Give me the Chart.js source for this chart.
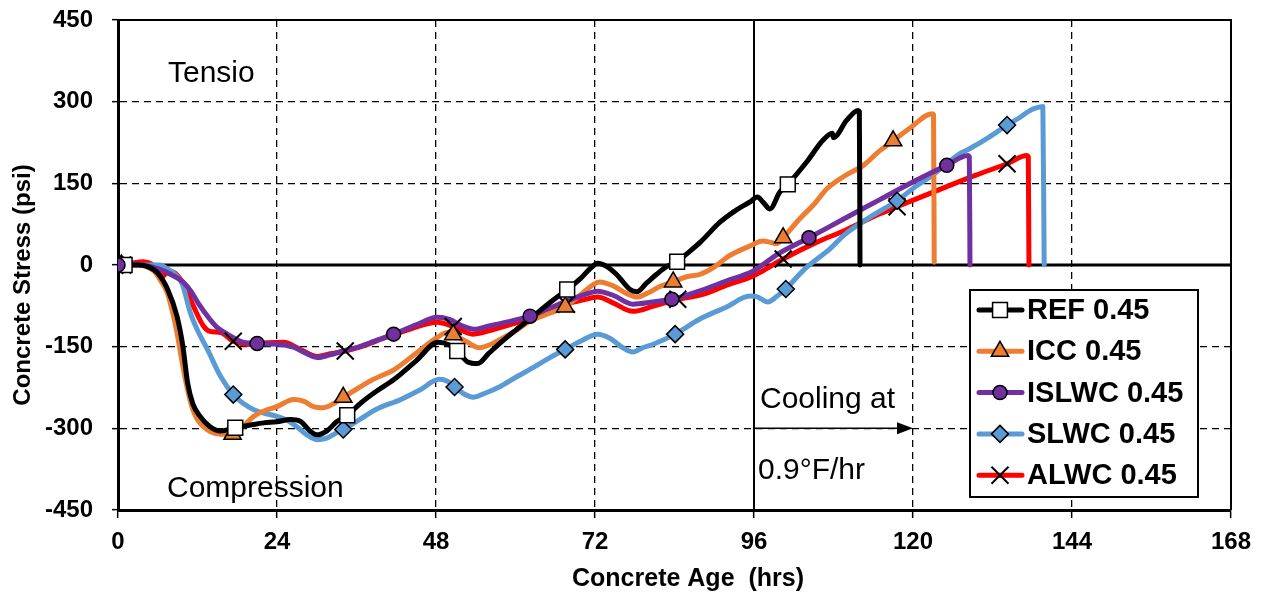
<!DOCTYPE html>
<html>
<head>
<meta charset="utf-8">
<script src="https://cdn.jsdelivr.net/npm/chart.js@4/dist/chart.umd.min.js"></script>
<style>
  html, body { margin: 0; padding: 0; background: #ffffff; overflow: hidden; }
  canvas { display: block; }
</style>
</head>
<body>
<canvas id="stressChart" width="1265" height="597"></canvas>
<script>
// ---- axis ticks ----
const X_TICKS = [0, 24, 48, 72, 96, 120, 144, 168];
const Y_TICKS = [-450, -300, -150, 0, 150, 300, 450];
const COOLING_START = 96;
const COOLING_END = 120;
const COOLING_LEVEL = -300;

// ---- series names ----
const SERIES_NAMES = ['REF 0.45', 'ICC 0.45', 'ISLWC 0.45', 'SLWC 0.45', 'ALWC 0.45'];

// ---- measured stress histories: [age (hrs), stress (psi)] ----
const REF = [[0,0],[1,0],[3,0],[4.5,-3],[6,-15],[7.5,-45],[8.9,-94],[9.8,-150],[10.5,-216],[11.3,-255],[12.4,-278],[13.8,-296],[15.5,-305],[17.7,-299],[20,-294],[22,-290],[24,-288],[26,-284],[27.5,-287],[29,-305],[30,-312],[31.5,-305],[33,-288],[34.6,-276],[36.7,-253],[39,-232],[41.7,-210],[45,-176],[48.3,-142],[50,-147],[51.2,-158],[52.8,-178],[54.3,-181],[56,-162],[57.8,-142],[60,-120],[62.7,-94],[65.3,-68],[67.8,-45],[69.8,-25],[71.4,-5],[72.4,3],[73.8,-3],[75.3,-18],[77.3,-45],[78.3,-49],[79.8,-33],[81.3,-17],[82.8,-3],[84.4,6],[85.8,20],[87.9,42],[90.9,79],[93.2,100],[95.4,116],[96.5,125],[97.4,115],[98.4,103],[99.9,134],[101.1,148],[104,190],[106.4,229],[107.8,242],[108,234],[110,266],[111.7,284],[111.9,282],[112,0]];
const ICC = [[0,0],[0.5,0],[2,0],[4,-2],[5.5,-12],[6.5,-30],[7.4,-50],[8.2,-85],[8.9,-124],[9.7,-180],[10.5,-229],[11.2,-262],[12,-284],[13,-298],[13.9,-306],[15.5,-311],[17.3,-311],[19,-295],[20.5,-278],[22.5,-266],[24,-260],[26.5,-247],[28,-250],[29.5,-260],[31,-262],[32.5,-255],[34,-243],[36.7,-223],[38.2,-212],[41.7,-192],[45,-162],[48.3,-132],[49.7,-124],[50.6,-128],[52.5,-140],[54.6,-152],[56.4,-145],[57.8,-136],[60,-121],[62.2,-103],[64.8,-90],[67.5,-77],[69.8,-55],[72.7,-31],[74.7,-38],[76.7,-52],[78.3,-59],[80.2,-50],[81.7,-40],[83.8,-31],[85.7,-22],[87.9,-17],[90.2,-2],[92,15],[95.4,35],[97.3,44],[98.4,42],[99.4,39],[100.4,50],[102.9,85],[105.1,112],[107,140],[109.6,163],[112.5,183],[115,210],[117,228],[119.6,252],[122.9,278],[123.1,276],[123.2,5]];
const ISLWC = [[0,0],[2,2],[3.8,0],[5.5,-5],[6.8,-10],[7.9,-17],[9.8,-31],[11,-48],[12,-68],[13.9,-100],[15,-115],[16.5,-127],[19,-142],[21,-144],[23,-145],[24.5,-146],[26.5,-151],[28.5,-163],[30.1,-170],[32,-165],[34,-158],[36.7,-149],[38.2,-142],[41.6,-127],[45,-110],[48.2,-96],[50,-100],[52,-112],[53.7,-118],[56,-112],[59,-104],[62.2,-94],[65,-80],[67.8,-66],[70.3,-55],[72.4,-48],[74.8,-56],[77.7,-72],[80.7,-68],[83.6,-63],[85.7,-56],[87.7,-48],[91.7,-30],[95.9,-11],[99.6,20],[104.3,50],[109.6,85],[115,120],[119.6,150],[125.1,183],[128.3,201],[128.5,199],[128.6,0]];
const SLWC = [[0,0],[0.7,0],[3,0],[5,0],[6.4,0],[7.3,-6],[8.6,-17],[9.7,-35],[10.9,-87],[12,-120],[13.5,-155],[15.5,-205],[17.4,-238],[19,-255],[20.5,-266],[22,-272],[24,-278],[25.5,-285],[27,-297],[28.5,-312],[30.1,-321],[31.5,-318],[33,-308],[34,-302],[36.7,-282],[39,-265],[42.7,-247],[45.5,-230],[48.5,-210],[49.8,-214],[50.8,-224],[52.4,-238],[53.6,-243],[55.3,-236],[57.7,-223],[59.8,-208],[62.7,-188],[65.2,-170],[67.5,-155],[69.8,-140],[72.4,-127],[74.3,-135],[76.2,-152],[77.7,-160],[79.2,-152],[80.7,-146],[84.1,-127],[87.7,-100],[91.7,-78],[95.4,-57],[96.4,-58],[98.1,-68],[99.4,-58],[100.8,-44],[103.6,-8],[107.5,30],[109.6,55],[113.5,88],[117.6,118],[120.6,146],[122.6,162],[125.1,186],[127,204],[128.6,214],[131.5,235],[134.2,257],[136,270],[137.7,284],[138.5,288],[139.6,291],[139.8,0]];
const ALWC = [[0,0],[0.7,0],[2,3],[3.8,6],[5,2],[6.8,-20],[7.6,-12],[8.3,-13],[9.7,-31],[11.4,-76],[12.9,-112],[13.9,-122],[15.5,-124],[17.4,-140],[20,-146],[22.5,-143],[25,-142],[27.5,-155],[30.1,-168],[32,-163],[34.3,-158],[36.7,-150],[40,-135],[44,-118],[48.2,-105],[50.6,-113],[53.6,-127],[56.8,-118],[61.8,-100],[64.8,-88],[67.7,-72],[70.3,-64],[72.4,-59],[74.8,-70],[77.7,-85],[80.7,-76],[84.5,-63],[86,-60],[88,-55],[91.7,-38],[95.9,-20],[97.3,-11],[100.4,11],[105.5,42],[109.6,63],[115,94],[117.6,107],[120.6,122],[125.1,144],[129.5,165],[134.2,186],[137.2,201],[137.4,199],[137.5,0]];

// ---- marker positions along each history ----
const REF_MARKS = [[1,0],[17.7,-299],[34.6,-276],[51.2,-158],[67.8,-45],[84.4,6],[101.1,148]];
const ICC_MARKS = [[0.5,0],[17.3,-311],[34,-243],[50.6,-128],[67.5,-77],[83.8,-31],[100.4,50],[117,228]];
const ISLWC_MARKS = [[0,0],[21,-144],[41.6,-127],[62.2,-94],[83.6,-63],[104.3,50],[125.1,183]];
const SLWC_MARKS = [[0.7,0],[17.4,-238],[34,-302],[50.8,-224],[67.5,-155],[84.1,-127],[100.8,-44],[117.6,118],[134.2,257]];
const ALWC_MARKS = [[0.7,0],[17.4,-140],[34.3,-158],[50.6,-113],[67.7,-72],[84.5,-63],[100.4,11],[117.6,107],[134.2,186]];

// ---- annotation texts ----
const LABEL_TENSION = 'Tensio';
const LABEL_COMPRESSION = 'Compression';
const LABEL_COOLING_1 = 'Cooling at';
const LABEL_COOLING_2 = '0.9°F/hr';
const X_TITLE = 'Concrete Age  (hrs)';
const Y_TITLE = 'Concrete Stress (psi)';

// ---- styling ----
const FONT = "'Liberation Sans', Arial, sans-serif";
const STYLES = [
  { color: '#000000', pointStyle: 'rect',     radius: 10.5, fill: '#ffffff', border: 1.5 },
  { color: '#ED7D31', pointStyle: 'triangle', radius: 10,   fill: '#ED7D31', border: 1.5 },
  { color: '#7030A0', pointStyle: 'circle',   radius: 7,    fill: '#7030A0', border: 1.5 },
  { color: '#5B9BD5', pointStyle: 'rectRot',  radius: 8.5,  fill: '#5B9BD5', border: 1.5 },
  { color: '#FF0000', pointStyle: 'crossRot', radius: 12,   fill: '#000000', border: 2 }
];
const SERIES = [REF, ICC, ISLWC, SLWC, ALWC];
const MARKS = [REF_MARKS, ICC_MARKS, ISLWC_MARKS, SLWC_MARKS, ALWC_MARKS];

const toXY = arr => arr.map(p => ({ x: p[0], y: p[1] }));

// first dataset is painted last (on top): markers, then lines from top to bottom
const MARK_ORDER = [2, 0, 1, 3, 4];
const LINE_ORDER = [0, 2, 1, 3, 4];
const datasets = [];
MARK_ORDER.forEach(i => {
  const s = STYLES[i];
  datasets.push({
    label: SERIES_NAMES[i] + ' markers',
    data: toXY(MARKS[i]),
    showLine: false,
    pointStyle: s.pointStyle,
    pointRadius: s.radius,
    pointHoverRadius: s.radius,
    pointBackgroundColor: s.fill,
    pointBorderColor: '#000000',
    pointBorderWidth: s.border,
    pointHoverBorderWidth: s.border
  });
});
LINE_ORDER.forEach(i => {
  const s = STYLES[i];
  datasets.push({
    label: SERIES_NAMES[i],
    data: toXY(SERIES[i]),
    showLine: true,
    borderColor: s.color,
    borderWidth: 5,
    borderJoinStyle: 'round',
    borderCapStyle: 'round',
    cubicInterpolationMode: 'monotone',
    pointRadius: 0,
    pointHoverRadius: 0
  });
});

// grid lines at the frame edges, the zero line and the cooling start are drawn solid by the overlay
const gridColorX = c => (c.tick && (c.tick.value === 0 || c.tick.value === 168 || c.tick.value === COOLING_START)) ? 'rgba(0,0,0,0)' : '#000000';
const gridColorY = c => (c.tick && (c.tick.value === 0 || Math.abs(c.tick.value) === 450)) ? 'rgba(0,0,0,0)' : '#000000';

const overlay = {
  id: 'overlay',
  beforeDatasetsDraw(chart) {
    const { ctx, chartArea: a, scales: { x, y } } = chart;
    ctx.save();
    ctx.strokeStyle = '#000000';
    ctx.setLineDash([]);
    // top and right frame
    ctx.lineWidth = 2;
    ctx.beginPath();
    ctx.moveTo(a.left, a.top);
    ctx.lineTo(a.right, a.top);
    ctx.lineTo(a.right, a.bottom);
    ctx.stroke();
    // zero stress
    const y0 = y.getPixelForValue(0);
    ctx.lineWidth = 3;
    ctx.beginPath();
    ctx.moveTo(a.left, y0);
    ctx.lineTo(a.right, y0);
    ctx.stroke();
    // start of cooling
    const xc = x.getPixelForValue(COOLING_START);
    ctx.lineWidth = 2;
    ctx.beginPath();
    ctx.moveTo(xc, a.top);
    ctx.lineTo(xc, a.bottom);
    ctx.stroke();
    ctx.restore();
  },
  afterDatasetsDraw(chart) {
    const { ctx, chartArea: a, scales: { x, y } } = chart;
    ctx.save();
    ctx.fillStyle = '#000000';
    ctx.strokeStyle = '#000000';

    // cooling arrow
    const xs = x.getPixelForValue(COOLING_START);
    const xe = x.getPixelForValue(COOLING_END);
    const ya = y.getPixelForValue(COOLING_LEVEL);
    ctx.lineWidth = 1.5;
    ctx.beginPath();
    ctx.moveTo(xs, ya);
    ctx.lineTo(xe - 12, ya);
    ctx.stroke();
    ctx.beginPath();
    ctx.moveTo(xe, ya);
    ctx.lineTo(xe - 16, ya - 6);
    ctx.lineTo(xe - 16, ya + 6);
    ctx.closePath();
    ctx.fill();

    // region and cooling notes
    ctx.font = '30px ' + FONT;
    ctx.textAlign = 'left';
    ctx.textBaseline = 'alphabetic';
    ctx.fillText(LABEL_TENSION, x.getPixelForValue(0) + 50, y.getPixelForValue(300) - 20);
    ctx.fillText(LABEL_COMPRESSION, x.getPixelForValue(0) + 49, y.getPixelForValue(-450) - 13);
    ctx.fillText(LABEL_COOLING_1, xs + 6, ya - 20);
    ctx.fillText(LABEL_COOLING_2, xs + 4, ya + 51);

    // legend
    const L = { left: 970, top: 290, right: 1198, bottom: 497, row0: 310, gap: 41.3, l0: 979, l1: 1022, mx: 1000, tx: 1027 };
    ctx.fillStyle = '#ffffff';
    ctx.fillRect(L.left, L.top, L.right - L.left, L.bottom - L.top);
    ctx.lineWidth = 2;
    ctx.strokeRect(L.left, L.top, L.right - L.left, L.bottom - L.top);
    ctx.font = 'bold 29px ' + FONT;
    ctx.textBaseline = 'middle';
    SERIES_NAMES.forEach((name, i) => {
      const s = STYLES[i];
      const ry = L.row0 + i * L.gap;
      ctx.strokeStyle = s.color;
      ctx.lineWidth = 5;
      ctx.lineCap = 'round';
      ctx.beginPath();
      ctx.moveTo(L.l0, ry);
      ctx.lineTo(L.l1, ry);
      ctx.stroke();
      ctx.fillStyle = s.fill;
      ctx.strokeStyle = '#000000';
      ctx.lineWidth = s.border;
      ctx.lineCap = 'butt';
      Chart.helpers.drawPoint(ctx, { pointStyle: s.pointStyle, radius: s.radius, borderWidth: s.border, rotation: 0 }, L.mx, ry);
      ctx.fillStyle = '#000000';
      ctx.fillText(name, L.tx, ry + 1);
    });
    ctx.restore();
  },
  afterDraw(chart) {
    const { ctx } = chart;
    ctx.save();
    ctx.fillStyle = '#000000';
    ctx.font = 'bold 25px ' + FONT;
    ctx.textAlign = 'center';
    ctx.textBaseline = 'middle';
    ctx.fillText(X_TITLE, 688, 579);
    ctx.translate(23, 285);
    ctx.rotate(-Math.PI / 2);
    ctx.font = 'bold 24px ' + FONT;
    ctx.fillText(Y_TITLE, 0, 0);
    ctx.restore();
  }
};

new Chart(document.getElementById('stressChart'), {
  type: 'scatter',
  data: { datasets },
  plugins: [overlay],
  options: {
    responsive: false,
    devicePixelRatio: 1,
    animation: false,
    events: [],
    layout: { padding: { top: 20, right: 34, left: 0, bottom: 0 } },
    plugins: { legend: { display: false }, tooltip: { enabled: false } },
    scales: {
      x: {
        type: 'linear',
        min: X_TICKS[0],
        max: X_TICKS[X_TICKS.length - 1],
        afterBuildTicks: s => { s.ticks = X_TICKS.map(v => ({ value: v })); },
        afterFit: s => { s.height = 87; s.paddingLeft = 0; s.paddingRight = 0; },
        ticks: { color: '#000000', font: { family: FONT, size: 24, weight: 'bold' }, padding: 10, maxRotation: 0 },
        grid: { color: gridColorX, lineWidth: 1.3, drawTicks: true, tickLength: 8, tickColor: '#000000', tickWidth: 1.5 },
        border: { display: true, color: '#000000', width: 3, dash: [7, 5] }
      },
      y: {
        type: 'linear',
        min: Y_TICKS[0],
        max: Y_TICKS[Y_TICKS.length - 1],
        afterBuildTicks: s => { s.ticks = Y_TICKS.map(v => ({ value: v })); },
        afterFit: s => { s.width = 118; s.paddingTop = 0; s.paddingBottom = 0; },
        ticks: { color: '#000000', font: { family: FONT, size: 24, weight: 'bold' }, padding: 19 },
        grid: { color: gridColorY, lineWidth: 1.3, drawTicks: true, tickLength: 6, tickColor: '#000000', tickWidth: 1.5 },
        border: { display: true, color: '#000000', width: 3, dash: [7, 5] }
      }
    }
  }
});
</script>
</body>
</html>
